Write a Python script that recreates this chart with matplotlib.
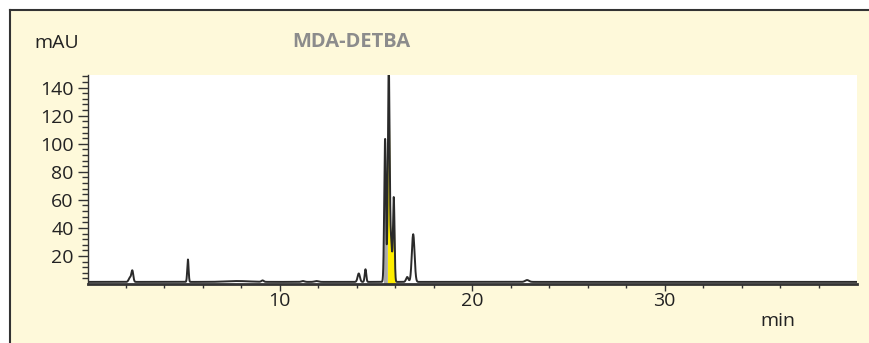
import numpy as np
import matplotlib.pyplot as plt
from matplotlib.patches import Rectangle
from matplotlib.lines import Line2D

plt.rcParams['font.family'] = ['Open Sans', 'DejaVu Sans']

# peak table: retention time (min), height (mAU), width (min)
peak_time = [2.2, 2.33, 5.22, 7.8, 9.1, 11.2, 11.9, 14.1, 14.45,
             15.47, 15.66, 15.78, 15.92, 16.62, 16.93, 22.85]
peak_height = [3.0, 8.0, 16.0, 0.6, 1.0, 0.6, 0.6, 6.0, 9.0,
               102, 152, 28, 60, 3.5, 34, 1.3]
peak_width = [0.06, 0.05, 0.035, 0.6, 0.06, 0.08, 0.1, 0.06, 0.04,
              0.045, 0.045, 0.05, 0.04, 0.06, 0.07, 0.1]
baseline = 1.5

# integrated areas (start, end, colour)
areas = [(15.38, 15.59, '#a8a8a8'), (15.59, 16.0, '#ffee00')]

t = np.linspace(0, 40, 8000)
signal = np.full_like(t, baseline)
for t0, h, w in zip(peak_time, peak_height, peak_width):
    signal += h * np.exp(-0.5 * ((t - t0) / w) ** 2)

fig = plt.figure(figsize=(8.69, 3.43), dpi=100)
fig.patch.set_facecolor('white')
fig.add_artist(Rectangle((10/869, 0), 1, 1 - 10/343, transform=fig.transFigure,
                         facecolor='#fef9da', edgecolor='none', zorder=-5))
fig.add_artist(Line2D([10/869, 1], [1 - 10/343, 1 - 10/343], transform=fig.transFigure,
                      color='#333333', lw=1.5))
fig.add_artist(Line2D([10/869, 10/869], [0, 1 - 10/343], transform=fig.transFigure,
                      color='#333333', lw=1.5))

ax = fig.add_axes([87.5/869, 59/343, (857 - 87.5)/869, (284 - 75)/343])
ax.set_facecolor('white')

for a, b, c in areas:
    m = (t >= a) & (t <= b)
    ax.fill_between(t[m], 0, signal[m], color=c, lw=0, zorder=1)
ax.plot(t, signal, color='#2a2a2a', lw=1.4, zorder=2)

ax.set_xlim(0, 40)
ax.set_ylim(0, 149)
ax.set_xticks([10, 20, 30])
ax.set_xticks(np.arange(2, 40, 2), minor=True)
ax.set_yticks([20, 40, 60, 80, 100, 120, 140])
ax.set_yticks(np.arange(4, 149, 4), minor=True)

for s in ['top', 'right']:
    ax.spines[s].set_visible(False)
ax.spines['bottom'].set_linewidth(2)
ax.spines['bottom'].set_color('#333333')
ax.spines['left'].set_linewidth(1)
ax.spines['left'].set_color('#333333')

ax.tick_params(axis='x', which='major', length=5, width=1, color='#333333',
               labelsize=14, pad=1, labelcolor='#222222')
ax.tick_params(axis='x', which='minor', length=3, width=1, color='#333333')
ax.tick_params(axis='y', which='major', length=7, width=1, color='#333333',
               labelsize=14, pad=3, labelcolor='#222222')
ax.tick_params(axis='y', which='minor', length=4, width=1, color='#333333')

fig.text(34/869, 1 - 43/343, 'mAU', fontsize=14, color='#222222', va='center', ha='left')
fig.text(351/869, 1 - 42/343, 'MDA-DETBA', fontsize=14.5, color='#8c8c8c',
         fontweight='bold', va='center', ha='center')
fig.text(778/869, 1 - 321/343, 'min', fontsize=14, color='#222222', va='center', ha='center')

fig.savefig('out.png', dpi=100)
